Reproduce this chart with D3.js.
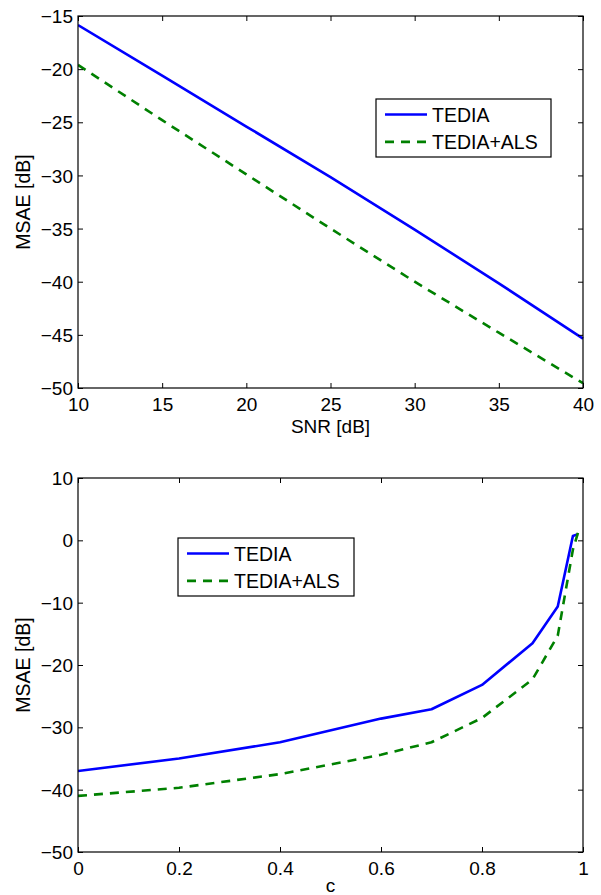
<!DOCTYPE html>
<html>
<head>
<meta charset="utf-8">
<script src="https://cdn.jsdelivr.net/npm/d3@7"></script>
<style>
  body { margin: 0; background: #fff; }
  svg { display: block; }
  text { font-family: "Liberation Sans", Arial, Helvetica, sans-serif; fill: #000; }
</style>
</head>
<body>
<svg id="chart" width="601" height="895"></svg>
<script>
// ---- data ----
const snr = [10, 15, 20, 25, 30, 35, 40];
const tediaSnr = [-15.85, -20.6, -25.4, -30.15, -35.1, -40.15, -45.35];
const alsSnr = [-19.6, -24.8, -29.9, -35.0, -40.0, -44.8, -49.55];

const cVals = [0, 0.2, 0.4, 0.6, 0.7, 0.8, 0.9, 0.95, 0.98, 0.99];
const tediaC = [-37.0, -35.0, -32.4, -28.6, -27.1, -23.2, -16.5, -10.6, 0.7, 1.0];
const alsC = [-41.0, -39.7, -37.5, -34.4, -32.4, -28.5, -22.3, -15.3, -1.5, 1.2];

const snrTicks = [10, 15, 20, 25, 30, 35, 40];
const snrYTicks = [-50, -45, -40, -35, -30, -25, -20, -15];
const cTicks = [0, 0.2, 0.4, 0.6, 0.8, 1];
const cYTicks = [-50, -40, -30, -20, -10, 0, 10];

const seriesNames = ["TEDIA", "TEDIA+ALS"];
const seriesColors = ["#0000ff", "#008000"];
const seriesDash = [null, "9,7"];

const svg = d3.select("#chart");
const fmtMinus = s => String(s).replace("-", "\u2212");

function panel(cfg) {
  const {left, right, top, bottom, xDomain, yDomain, xTicks, yTicks, xs, ys, xLabel, yLabel, legend} = cfg;
  const x = d3.scaleLinear().domain(xDomain).range([left, right]);
  const y = d3.scaleLinear().domain(yDomain).range([bottom, top]);
  const g = svg.append("g");
  const tl = 5;

  const clipId = "clip" + Math.round(top);
  g.append("clipPath").attr("id", clipId).append("rect")
    .attr("x", left).attr("y", top - 2).attr("width", right - left + 2).attr("height", bottom - top + 4);
  const line = d3.line().x(d => x(d[0])).y(d => y(d[1]));
  ys.forEach((vals, i) => {
    g.append("path")
      .attr("clip-path", `url(#${clipId})`)
      .attr("d", line(xs.map((xv, j) => [xv, vals[j]])))
      .attr("fill", "none")
      .attr("stroke", seriesColors[i])
      .attr("stroke-width", 2.6)
      .attr("stroke-dasharray", seriesDash[i])
      .attr("stroke-linejoin", "round");
  });

  const fmt = d => fmtMinus(d);
  const axB = g.append("g").attr("transform", `translate(0,${bottom})`)
    .call(d3.axisBottom(x).tickValues(xTicks).tickSize(-tl).tickPadding(0).tickFormat(fmt));
  const axT = g.append("g").attr("transform", `translate(0,${top})`)
    .call(d3.axisTop(x).tickValues(xTicks).tickSize(-tl).tickFormat(""));
  const axL = g.append("g").attr("transform", `translate(${left},0)`)
    .call(d3.axisLeft(y).tickValues(yTicks).tickSize(-tl).tickPadding(0).tickFormat(fmt));
  const axR = g.append("g").attr("transform", `translate(${right},0)`)
    .call(d3.axisRight(y).tickValues(yTicks).tickSize(-tl).tickFormat(""));
  [axB, axT, axL, axR].forEach(a => {
    a.select(".domain").remove();
    a.selectAll("line").attr("stroke", "#000").attr("stroke-width", 1);
  });
  axB.selectAll("text").attr("font-size", 19).attr("y", 23).attr("dy", null).attr("fill", "#000");
  axL.selectAll("text").attr("font-size", 19).attr("x", -5).attr("dy", "0.35em").attr("fill", "#000");

  g.append("rect").attr("x", left).attr("y", top).attr("width", right - left).attr("height", bottom - top)
    .attr("fill", "none").attr("stroke", "#000").attr("stroke-width", 1.2);

  g.append("text").attr("x", (left + right) / 2).attr("y", Math.min(bottom + 45, 892))
    .attr("text-anchor", "middle").attr("font-size", 19).text(xLabel);
  g.append("text").attr("transform", `translate(30,${(top + bottom) / 2}) rotate(-90)`)
    .attr("text-anchor", "middle").attr("font-size", 19.5).text(yLabel);

  const lg = g.append("g");
  lg.append("rect").attr("x", legend.x).attr("y", legend.y).attr("width", legend.w).attr("height", legend.h)
    .attr("fill", "#fff").attr("stroke", "#000").attr("stroke-width", 1.2);
  seriesNames.forEach((name, i) => {
    const ly = legend.y + 15.5 + i * 27.4;
    lg.append("line").attr("x1", legend.x + 9).attr("x2", legend.x + 51)
      .attr("y1", ly).attr("y2", ly)
      .attr("stroke", seriesColors[i]).attr("stroke-width", 2.6)
      .attr("stroke-dasharray", seriesDash[i]);
    lg.append("text").attr("x", legend.x + 56).attr("y", ly).attr("dy", "0.36em")
      .attr("font-size", 19.5).text(name);
  });
}

panel({
  left: 78, right: 583, top: 16, bottom: 388,
  xDomain: [10, 40], yDomain: [-50, -15],
  xTicks: snrTicks, yTicks: snrYTicks,
  xs: snr, ys: [tediaSnr, alsSnr],
  xLabel: "SNR [dB]", yLabel: "MSAE [dB]",
  legend: {x: 376, y: 99, w: 175, h: 58}
});

panel({
  left: 78, right: 583, top: 478, bottom: 852,
  xDomain: [0, 1], yDomain: [-50, 10],
  xTicks: cTicks, yTicks: cYTicks,
  xs: cVals, ys: [tediaC, alsC],
  xLabel: "c", yLabel: "MSAE [dB]",
  legend: {x: 178, y: 538, w: 176, h: 58}
});
</script>
</body>
</html>
